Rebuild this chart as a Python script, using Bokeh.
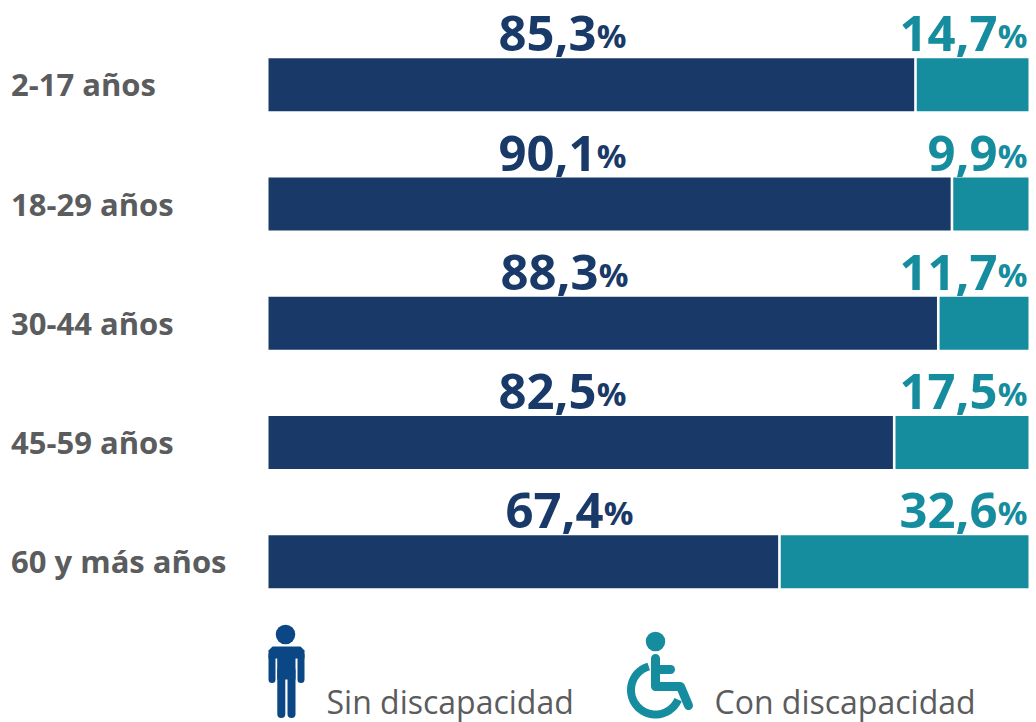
import numpy as np
from bokeh.plotting import figure
from bokeh.models import Range1d
from bokeh.core.properties import value
from bokeh.embed import file_html
from bokeh.resources import INLINE

categories = ["2-17 años", "18-29 años", "30-44 años", "45-59 años", "60 y más años"]
sin_disc = [85.3, 90.1, 88.3, 82.5, 67.4]
con_disc = [14.7, 9.9, 11.7, 17.5, 32.6]
sin_label = ["85,3", "90,1", "88,3", "82,5", "67,4"]
con_label = ["14,7", "9,9", "11,7", "17,5", "32,6"]
legend_labels = ["Sin discapacidad", "Con discapacidad"]

NAVY = "#193a68"
TEAL = "#168d9e"
ICON_BLUE = "#0a4784"
GREY = "#5b5c5e"

W, H = 1036, 722
ORIGIN = 0
PX_LEFT, PX_RIGHT = 268, 1028      # pixel of 0 % and 100 %
ROW0, ROW_STEP = 84.25, 119.25     # pixel of the first row's centre, and the step
X_UNIT = (PX_RIGHT - PX_LEFT) / 100

def dx(px):
    return (np.asarray(px, dtype=float) - PX_LEFT) / X_UNIT

def dy(py):
    return (np.asarray(py, dtype=float) - ROW0) / ROW_STEP

p = figure(width=W, height=H, output_backend="svg", toolbar_location=None,
           x_range=Range1d(float(dx(ORIGIN)), float(dx(ORIGIN + W))),
           y_range=Range1d(float(dy(ORIGIN + H)), float(dy(ORIGIN))),
           min_border=0, outline_line_color=None)
p.axis.visible = False
p.grid.visible = False
p.background_fill_color = "white"
p.border_fill_color = "white"

rows = list(range(len(categories)))
BAR_H = 53 / ROW_STEP
GAP = 2.6 / X_UNIT

p.hbar(y=rows, left=0, right=[v - GAP for v in sin_disc], height=BAR_H, color=NAVY, line_color=None)
p.hbar(y=rows, left=sin_disc, right=[s + c for s, c in zip(sin_disc, con_disc)], height=BAR_H,
       color=TEAL, line_color=None)

p.text(x=[float(dx(10.5))] * 5, y=rows, text=categories, text_font=value("Open Sans"), text_font_style="bold",
       text_font_size="31px", text_color=GREY, text_baseline="alphabetic", text_align="left", y_offset=-0.5)

NUM_SIZE, PCT_SIZE, PCT_W = "49px", "33px", 29
sin_right = [626, 626, 628, 626, 633]
for labels, rights, col in ((sin_label, sin_right, NAVY), (con_label, [1027] * 5, TEAL)):
    p.text(x=[float(dx(r - PCT_W - 1)) for r in rights], y=rows, text=labels, text_font=value("Open Sans"),
           text_font_style="bold", text_font_size=NUM_SIZE, text_color=col,
           text_baseline="middle", text_align="right", y_offset=-51)
    p.text(x=[float(dx(r)) for r in rights], y=rows, text=["%"] * 5, text_font=value("Open Sans"),
           text_font_style="bold", text_font_size=PCT_SIZE, text_color=col,
           text_baseline="middle", text_align="right", y_offset=-49)

p.text(x=[float(dx(326)), float(dx(714))], y=[float(dy(701))] * 2, text=legend_labels,
       text_font=value("Open Sans"), text_font_size="32px", text_color=GREY,
       text_baseline="alphabetic", text_align="left")

# person icon
p.scatter(x=[float(dx(285))], y=[float(dy(634))], size=19.5, marker="circle", color=ICON_BLUE, line_color=None)
body_x = [268, 268, 272, 300, 304, 304]
body_y = [658, 650, 646, 646, 650, 658]
p.patch(x=dx(body_x).tolist(), y=dy(body_y).tolist(), color=ICON_BLUE, line_color=None)
for x0, y0, y1, w, cap in ((271.5, 655, 679, 7, "round"), (300.5, 655, 679, 7, "round"),
                           (280.8, 670, 713.5, 8, "round"), (291, 670, 713.5, 8, "round"),
                           (285.85, 650, 679, 18.3, "butt")):
    p.line(x=dx([x0, x0]).tolist(), y=dy([y0, y1]).tolist(), line_color=ICON_BLUE, line_width=w, line_cap=cap)

# wheelchair icon
p.scatter(x=[float(dx(655))], y=[float(dy(641))], size=19.5, marker="circle", color=TEAL, line_color=None)
chair = [([655, 655, 680, 688], [658, 686, 686, 705]), ([655, 670], [669, 669])]
for xs, ys in chair:
    p.line(x=dx(xs).tolist(), y=dy(ys).tolist(), line_color=TEAL, line_width=9, line_cap="round", line_join="round")
ang = np.radians(np.linspace(106, 337, 60))
p.line(x=dx(655 + 24.5 * np.cos(ang)).tolist(), y=dy(689.5 - 24.5 * np.sin(ang)).tolist(),
       line_color=TEAL, line_width=8)

open("out.html", "w").write(file_html(p, INLINE))
